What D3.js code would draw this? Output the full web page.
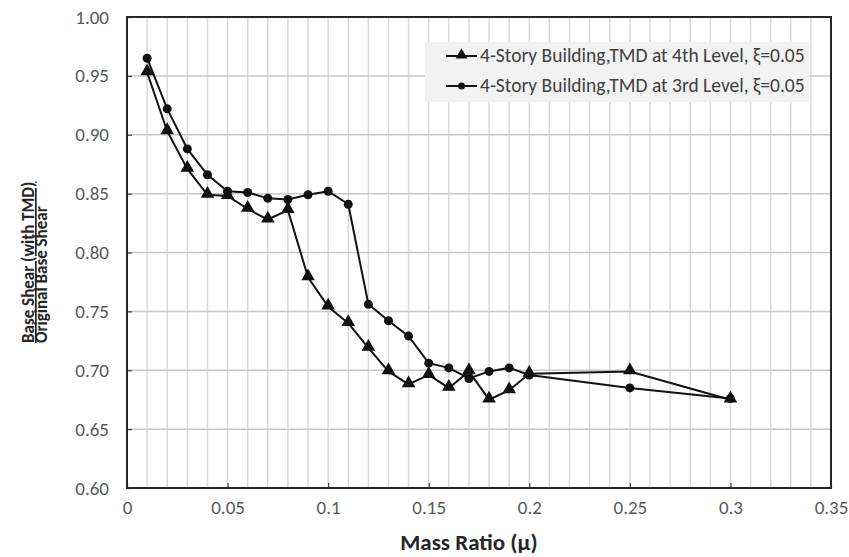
<!DOCTYPE html>
<html>
<head>
<meta charset="utf-8">
<script src="https://cdn.jsdelivr.net/npm/d3@7"></script>
<style>
  body { margin: 0; background: #fff; }
  svg text { font-family: Carlito, "Open Sans", sans-serif; }
</style>
</head>
<body>
<svg id="chart" width="849" height="557"></svg>
<script>
const massRatio4th = [0.01, 0.02, 0.03, 0.04, 0.05, 0.06, 0.07, 0.08, 0.09, 0.10, 0.11, 0.12, 0.13, 0.14, 0.15, 0.16, 0.17, 0.18, 0.19, 0.20, 0.25, 0.30];
const shear4th = [0.953, 0.903, 0.871, 0.849, 0.848, 0.837, 0.828, 0.836, 0.779, 0.754, 0.740, 0.719, 0.699, 0.688, 0.696, 0.685, 0.699, 0.675, 0.683, 0.697, 0.699, 0.675];
const massRatio3rd = [0.01, 0.02, 0.03, 0.04, 0.05, 0.06, 0.07, 0.08, 0.09, 0.10, 0.11, 0.12, 0.13, 0.14, 0.15, 0.16, 0.17, 0.18, 0.19, 0.20, 0.25, 0.30];
const shear3rd = [0.965, 0.922, 0.888, 0.866, 0.852, 0.851, 0.846, 0.845, 0.849, 0.852, 0.841, 0.756, 0.742, 0.729, 0.706, 0.702, 0.693, 0.699, 0.702, 0.696, 0.685, 0.676];
const xTicks = [0, 0.05, 0.1, 0.15, 0.2, 0.25, 0.3, 0.35];
const xTickLabels = ["0", "0.05", "0.1", "0.15", "0.2", "0.25", "0.3", "0.35"];
const yTicks = [0.60, 0.65, 0.70, 0.75, 0.80, 0.85, 0.90, 0.95, 1.00];
const legendLabels = ["4-Story Building,TMD at 4th Level, \u03BE=0.05", "4-Story Building,TMD at 3rd Level, \u03BE=0.05"];

const svg = d3.select('#chart');
const margin = {top: 17, right: 18, bottom: 69, left: 127};
const width = 849 - margin.left - margin.right;
const height = 557 - margin.top - margin.bottom;

const x = d3.scaleLinear().domain([0, 0.35]).range([0, width]);
const y = d3.scaleLinear().domain([0.6, 1.0]).range([height, 0]);

const g = svg.append('g').attr('transform', `translate(${margin.left},${margin.top})`);

// minor vertical grid every 0.01
g.selectAll('line.vgrid')
  .data(d3.range(1, 35).map(d => d / 100))
  .enter().append('line')
  .attr('class', 'vgrid')
  .attr('x1', d => x(d)).attr('x2', d => x(d))
  .attr('y1', 0).attr('y2', height)
  .style('stroke', '#d9d9d9').style('stroke-width', 1.5);

// horizontal grid
g.selectAll('line.hgrid')
  .data(yTicks.slice(1, -1))
  .enter().append('line')
  .attr('class', 'hgrid')
  .attr('x1', 0).attr('x2', width)
  .attr('y1', d => y(d)).attr('y2', d => y(d))
  .style('stroke', '#c8c8c8').style('stroke-width', 1.5);

// axes
const xAxis = g.append('g')
  .attr('transform', `translate(0,${height})`)
  .call(d3.axisBottom(x).tickValues(xTicks).tickFormat((d, i) => xTickLabels[i]).tickSize(-5).tickPadding(13));
const yAxis = g.append('g')
  .call(d3.axisLeft(y).tickValues(yTicks).tickFormat(d3.format('.2f')).tickSize(-5).tickPadding(18));

[xAxis, yAxis].forEach(a => {
  a.select('.domain').remove();
  a.selectAll('.tick line').style('stroke', '#404040').style('stroke-width', 1.2);
  a.selectAll('.tick text').style('font-size', '19px').style('fill', '#595959')
    .style('font-family', 'Carlito, sans-serif');
});

// frame
g.append('rect')
  .attr('x', 0).attr('y', 0).attr('width', width).attr('height', height)
  .style('fill', 'none').style('stroke', '#262626').style('stroke-width', 2);

// series
const line = d3.line().x(d => x(d[0])).y(d => y(d[1]));
const data4th = massRatio4th.map((m, i) => [m, shear4th[i]]);
const data3rd = massRatio3rd.map((m, i) => [m, shear3rd[i]]);

const triangle = d3.symbol().type(d3.symbolTriangle).size(80);

g.append('path').datum(data3rd).attr('d', line)
  .style('fill', 'none').style('stroke', '#111').style('stroke-width', 2);
g.append('path').datum(data4th).attr('d', line)
  .style('fill', 'none').style('stroke', '#111').style('stroke-width', 2);

g.selectAll('circle.pt3')
  .data(data3rd)
  .enter().append('circle')
  .attr('class', 'pt3')
  .attr('cx', d => x(d[0])).attr('cy', d => y(d[1])).attr('r', 4.5)
  .style('fill', '#111');

g.selectAll('path.pt4')
  .data(data4th)
  .enter().append('path')
  .attr('class', 'pt4')
  .attr('d', triangle)
  .attr('transform', d => `translate(${x(d[0])},${y(d[1]) - 1})`)
  .style('fill', '#111');

// legend
const leg = svg.append('g').attr('transform', 'translate(425,42)');
leg.append('rect').attr('width', 384).attr('height', 60).style('fill', '#f2f2f2');
legendLabels.forEach((lab, i) => {
  const ly = 14 + i * 30;
  leg.append('line').attr('x1', 21).attr('x2', 52).attr('y1', ly).attr('y2', ly)
    .style('stroke', '#111').style('stroke-width', 2);
  if (i === 0) {
    leg.append('path').attr('d', d3.symbol().type(d3.symbolTriangle).size(60))
      .attr('transform', `translate(36.5,${ly - 1})`).style('fill', '#111');
  } else {
    leg.append('circle').attr('cx', 36.5).attr('cy', ly).attr('r', 3.5).style('fill', '#111');
  }
  leg.append('text').attr('x', 55).attr('y', ly + 6)
    .style('font-size', '19.5px').style('fill', '#404040')
    .text(lab);
});

// axis titles
svg.append('text')
  .attr('x', margin.left + x(0.17)).attr('y', 550)
  .attr('text-anchor', 'middle')
  .style('font-size', '23px').style('font-weight', 'bold').style('fill', '#262626')
  .text('Mass Ratio (\u03BC)');

const yTitle = svg.append('g').attr('transform', 'translate(0,343) rotate(-90)');
yTitle.append('text')
  .attr('x', 0).attr('y', 34)
  .style('font-size', '17px').style('font-weight', 'bold').style('fill', '#262626')
  .style('text-decoration', 'underline')
  .text('Base Shear (with TMD)');
yTitle.append('text')
  .attr('x', 0).attr('y', 47)
  .style('font-size', '17px').style('font-weight', 'bold').style('fill', '#262626')
  .text('Original Base Shear');
</script>
</body>
</html>
